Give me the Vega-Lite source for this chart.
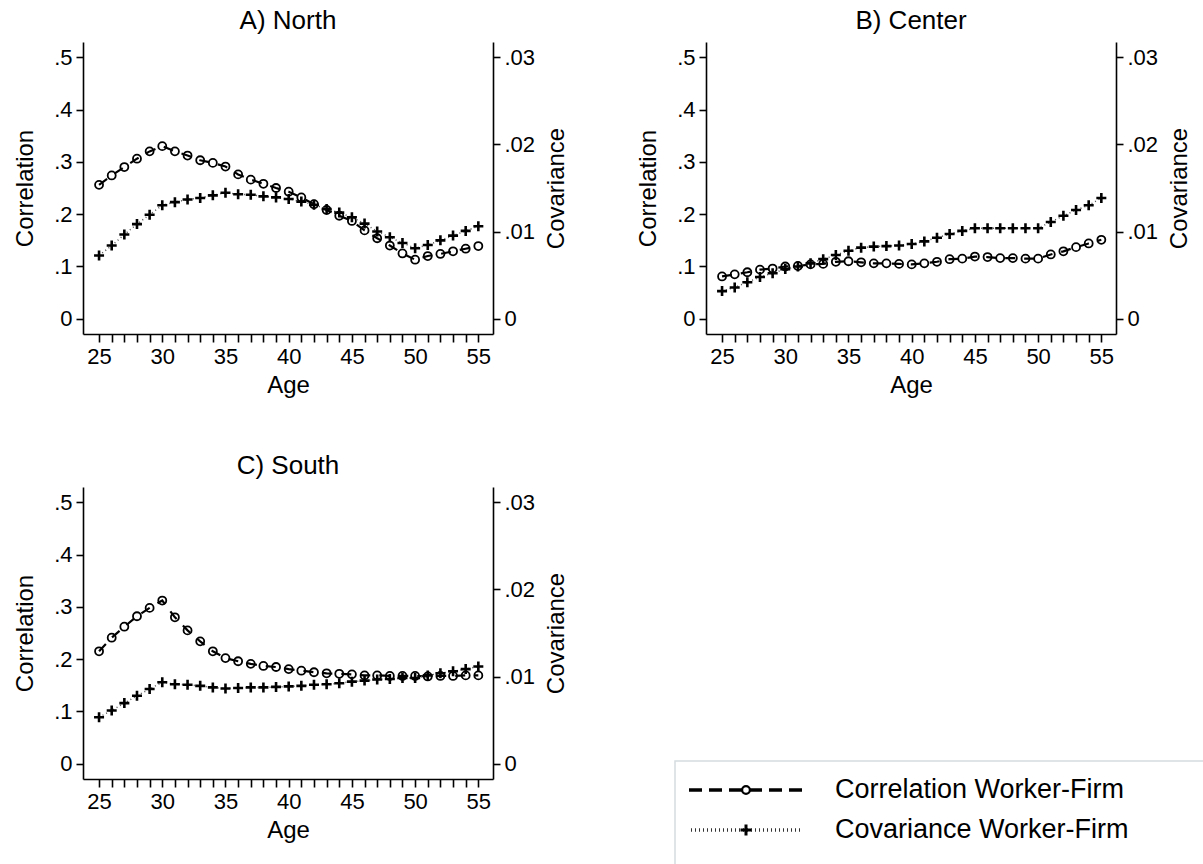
{
  "$schema": "https://vega.github.io/schema/vega-lite/v6.json",
  "padding": {"left": 13, "top": 8, "right": 0, "bottom": 0},
  "background": "white",
  "config": {
    "view": {"stroke": null},
    "font": "Liberation Sans",
    "axis": {"grid": false, "domainColor": "black", "domainWidth": 1.6, "tickColor": "black", "tickWidth": 1.6, "tickSize": 7, "labelFont": "Liberation Sans", "labelFontSize": 22, "labelColor": "black", "titleFont": "Liberation Sans", "titleFontSize": 24, "titleFontWeight": "normal", "titleColor": "black", "labelPadding": 4},
    "axisX": {"labelOverlap": false, "labelFlush": false},
    "title": {"font": "Liberation Sans", "fontSize": 26, "fontWeight": "normal", "color": "black", "offset": 8}
  },
  "datasets": {
    "main": [
      {"r":"North","age":25,"corr":0.256,"cov":0.00726},{"r":"North","age":26,"corr":0.274,"cov":0.0084},{"r":"North","age":27,"corr":0.290,"cov":0.00966},{"r":"North","age":28,"corr":0.306,"cov":0.01086},{"r":"North","age":29,"corr":0.320,"cov":0.01194},{"r":"North","age":30,"corr":0.330,"cov":0.01302},{"r":"North","age":31,"corr":0.320,"cov":0.01338},{"r":"North","age":32,"corr":0.312,"cov":0.01368},{"r":"North","age":33,"corr":0.303,"cov":0.01386},{"r":"North","age":34,"corr":0.298,"cov":0.01416},{"r":"North","age":35,"corr":0.291,"cov":0.01446},{"r":"North","age":36,"corr":0.276,"cov":0.01428},{"r":"North","age":37,"corr":0.266,"cov":0.01422},{"r":"North","age":38,"corr":0.258,"cov":0.01404},{"r":"North","age":39,"corr":0.250,"cov":0.01392},{"r":"North","age":40,"corr":0.243,"cov":0.01374},{"r":"North","age":41,"corr":0.232,"cov":0.01344},{"r":"North","age":42,"corr":0.219,"cov":0.01308},{"r":"North","age":43,"corr":0.208,"cov":0.0126},{"r":"North","age":44,"corr":0.197,"cov":0.01218},{"r":"North","age":45,"corr":0.187,"cov":0.01164},{"r":"North","age":46,"corr":0.169,"cov":0.01092},{"r":"North","age":47,"corr":0.154,"cov":0.01002},{"r":"North","age":48,"corr":0.140,"cov":0.00936},{"r":"North","age":49,"corr":0.125,"cov":0.0087},{"r":"North","age":50,"corr":0.113,"cov":0.0081},{"r":"North","age":51,"corr":0.120,"cov":0.00846},{"r":"North","age":52,"corr":0.124,"cov":0.009},{"r":"North","age":53,"corr":0.129,"cov":0.00954},{"r":"North","age":54,"corr":0.134,"cov":0.01008},{"r":"North","age":55,"corr":0.139,"cov":0.01062},
      {"r":"Center","age":25,"corr":0.081,"cov":0.00318},{"r":"Center","age":26,"corr":0.085,"cov":0.0036},{"r":"Center","age":27,"corr":0.089,"cov":0.0042},{"r":"Center","age":28,"corr":0.094,"cov":0.0048},{"r":"Center","age":29,"corr":0.096,"cov":0.00522},{"r":"Center","age":30,"corr":0.100,"cov":0.0057},{"r":"Center","age":31,"corr":0.101,"cov":0.006},{"r":"Center","age":32,"corr":0.104,"cov":0.00636},{"r":"Center","age":33,"corr":0.105,"cov":0.00684},{"r":"Center","age":34,"corr":0.109,"cov":0.00732},{"r":"Center","age":35,"corr":0.110,"cov":0.0078},{"r":"Center","age":36,"corr":0.108,"cov":0.00816},{"r":"Center","age":37,"corr":0.106,"cov":0.00828},{"r":"Center","age":38,"corr":0.106,"cov":0.00834},{"r":"Center","age":39,"corr":0.105,"cov":0.0084},{"r":"Center","age":40,"corr":0.104,"cov":0.00858},{"r":"Center","age":41,"corr":0.106,"cov":0.00888},{"r":"Center","age":42,"corr":0.109,"cov":0.0093},{"r":"Center","age":43,"corr":0.114,"cov":0.00972},{"r":"Center","age":44,"corr":0.115,"cov":0.01008},{"r":"Center","age":45,"corr":0.119,"cov":0.01038},{"r":"Center","age":46,"corr":0.118,"cov":0.01038},{"r":"Center","age":47,"corr":0.116,"cov":0.01038},{"r":"Center","age":48,"corr":0.116,"cov":0.01038},{"r":"Center","age":49,"corr":0.115,"cov":0.01038},{"r":"Center","age":50,"corr":0.115,"cov":0.01038},{"r":"Center","age":51,"corr":0.123,"cov":0.0111},{"r":"Center","age":52,"corr":0.129,"cov":0.01182},{"r":"Center","age":53,"corr":0.137,"cov":0.01248},{"r":"Center","age":54,"corr":0.144,"cov":0.01302},{"r":"Center","age":55,"corr":0.151,"cov":0.01386},
      {"r":"South","age":25,"corr":0.215,"cov":0.00534},{"r":"South","age":26,"corr":0.241,"cov":0.00612},{"r":"South","age":27,"corr":0.262,"cov":0.00696},{"r":"South","age":28,"corr":0.282,"cov":0.0078},{"r":"South","age":29,"corr":0.298,"cov":0.00858},{"r":"South","age":30,"corr":0.312,"cov":0.00936},{"r":"South","age":31,"corr":0.280,"cov":0.00912},{"r":"South","age":32,"corr":0.255,"cov":0.00906},{"r":"South","age":33,"corr":0.234,"cov":0.00894},{"r":"South","age":34,"corr":0.215,"cov":0.00876},{"r":"South","age":35,"corr":0.202,"cov":0.00864},{"r":"South","age":36,"corr":0.196,"cov":0.0087},{"r":"South","age":37,"corr":0.191,"cov":0.00876},{"r":"South","age":38,"corr":0.187,"cov":0.00876},{"r":"South","age":39,"corr":0.185,"cov":0.00882},{"r":"South","age":40,"corr":0.181,"cov":0.00888},{"r":"South","age":41,"corr":0.178,"cov":0.00894},{"r":"South","age":42,"corr":0.175,"cov":0.00906},{"r":"South","age":43,"corr":0.173,"cov":0.00912},{"r":"South","age":44,"corr":0.172,"cov":0.00924},{"r":"South","age":45,"corr":0.171,"cov":0.00942},{"r":"South","age":46,"corr":0.169,"cov":0.00954},{"r":"South","age":47,"corr":0.169,"cov":0.00966},{"r":"South","age":48,"corr":0.168,"cov":0.00972},{"r":"South","age":49,"corr":0.168,"cov":0.00984},{"r":"South","age":50,"corr":0.168,"cov":0.00984},{"r":"South","age":51,"corr":0.167,"cov":0.01014},{"r":"South","age":52,"corr":0.168,"cov":0.01038},{"r":"South","age":53,"corr":0.168,"cov":0.01062},{"r":"South","age":54,"corr":0.169,"cov":0.01086},{"r":"South","age":55,"corr":0.169,"cov":0.01116}
    ]
  },
  "bounds": "flush",
  "columns": 2,
  "spacing": {"row": 153, "column": 213},
  "concat": [
    {
      "width": 410, "height": 292,
      "title": "A) North",
      "data": {"name": "main"},
      "transform": [{"filter": "datum.r == 'North'"}],
      "layer": [
        {
          "encoding": {
            "x": {"field": "age", "type": "quantitative", "scale": {"domain": [23.73, 56.16], "nice": false, "zero": false}, "axis": {"values": [25,26,27,28,29,30,31,32,33,34,35,36,37,38,39,40,41,42,43,44,45,46,47,48,49,50,51,52,53,54,55], "labelExpr": "datum.value % 5 === 0 ? datum.label : ''", "labelOverlap": false, "labelFlush": false, "tickSize": 8, "title": "Age", "titlePadding": 6}},
            "y": {"field": "corr", "type": "quantitative", "scale": {"domain": [-0.029, 0.529], "nice": false, "zero": false}, "axis": {"orient": "left", "values": [0, 0.1, 0.2, 0.3, 0.4, 0.5], "labelExpr": "replace(format(datum.value, '.2~f'), '0.', '.')", "title": "Correlation", "titlePadding": 16}}
          },
          "layer": [
            {"mark": {"type": "line", "color": "black", "strokeWidth": 2.2, "strokeDash": [10, 9]}},
            {"mark": {"type": "point", "shape": "circle", "filled": false, "color": "black", "size": 64, "strokeWidth": 1.8, "opacity": 1}}
          ]
        },
        {
          "encoding": {
            "x": {"field": "age", "type": "quantitative", "axis": {"values": [25,26,27,28,29,30,31,32,33,34,35,36,37,38,39,40,41,42,43,44,45,46,47,48,49,50,51,52,53,54,55], "labelExpr": "datum.value % 5 === 0 ? datum.label : ''", "labelOverlap": false, "labelFlush": false, "tickSize": 8, "title": "Age", "titlePadding": 6}},
            "y": {"field": "cov", "type": "quantitative", "scale": {"domain": [-0.00174, 0.03174], "nice": false, "zero": false}, "axis": {"orient": "right", "values": [0, 0.01, 0.02, 0.03], "labelExpr": "replace(format(datum.value, '.2~f'), '0.', '.')", "title": "Covariance", "titleAngle": -90, "titleBaseline": "top", "titlePadding": 10}}
          },
          "layer": [
            {"mark": {"type": "line", "color": "#555", "strokeWidth": 1.5, "strokeDash": [1, 3]}},
            {"mark": {"type": "point", "shape": "M-1,0H1M0,-1V1", "filled": false, "color": "black", "size": 100, "strokeWidth": 2.6, "opacity": 1}}
          ]
        }
      ],
      "resolve": {"scale": {"y": "independent"}}
    },
    {
      "width": 410, "height": 292,
      "title": "B) Center",
      "data": {"name": "main"},
      "transform": [{"filter": "datum.r == 'Center'"}],
      "layer": [
        {
          "encoding": {
            "x": {"field": "age", "type": "quantitative", "scale": {"domain": [23.73, 56.16], "nice": false, "zero": false}, "axis": {"values": [25,26,27,28,29,30,31,32,33,34,35,36,37,38,39,40,41,42,43,44,45,46,47,48,49,50,51,52,53,54,55], "labelExpr": "datum.value % 5 === 0 ? datum.label : ''", "labelOverlap": false, "labelFlush": false, "tickSize": 8, "title": "Age", "titlePadding": 6}},
            "y": {"field": "corr", "type": "quantitative", "scale": {"domain": [-0.029, 0.529], "nice": false, "zero": false}, "axis": {"orient": "left", "values": [0, 0.1, 0.2, 0.3, 0.4, 0.5], "labelExpr": "replace(format(datum.value, '.2~f'), '0.', '.')", "title": "Correlation", "titlePadding": 16}}
          },
          "layer": [
            {"mark": {"type": "line", "color": "black", "strokeWidth": 2.2, "strokeDash": [10, 9]}},
            {"mark": {"type": "point", "shape": "circle", "filled": false, "color": "black", "size": 64, "strokeWidth": 1.8, "opacity": 1}}
          ]
        },
        {
          "encoding": {
            "x": {"field": "age", "type": "quantitative", "axis": {"values": [25,26,27,28,29,30,31,32,33,34,35,36,37,38,39,40,41,42,43,44,45,46,47,48,49,50,51,52,53,54,55], "labelExpr": "datum.value % 5 === 0 ? datum.label : ''", "labelOverlap": false, "labelFlush": false, "tickSize": 8, "title": "Age", "titlePadding": 6}},
            "y": {"field": "cov", "type": "quantitative", "scale": {"domain": [-0.00174, 0.03174], "nice": false, "zero": false}, "axis": {"orient": "right", "values": [0, 0.01, 0.02, 0.03], "labelExpr": "replace(format(datum.value, '.2~f'), '0.', '.')", "title": "Covariance", "titleAngle": -90, "titleBaseline": "top", "titlePadding": 10}}
          },
          "layer": [
            {"mark": {"type": "line", "color": "#555", "strokeWidth": 1.5, "strokeDash": [1, 3]}},
            {"mark": {"type": "point", "shape": "M-1,0H1M0,-1V1", "filled": false, "color": "black", "size": 100, "strokeWidth": 2.6, "opacity": 1}}
          ]
        }
      ],
      "resolve": {"scale": {"y": "independent"}}
    },
    {
      "width": 410, "height": 292,
      "title": "C) South",
      "data": {"name": "main"},
      "transform": [{"filter": "datum.r == 'South'"}],
      "layer": [
        {
          "encoding": {
            "x": {"field": "age", "type": "quantitative", "scale": {"domain": [23.73, 56.16], "nice": false, "zero": false}, "axis": {"values": [25,26,27,28,29,30,31,32,33,34,35,36,37,38,39,40,41,42,43,44,45,46,47,48,49,50,51,52,53,54,55], "labelExpr": "datum.value % 5 === 0 ? datum.label : ''", "labelOverlap": false, "labelFlush": false, "tickSize": 8, "title": "Age", "titlePadding": 6}},
            "y": {"field": "corr", "type": "quantitative", "scale": {"domain": [-0.029, 0.529], "nice": false, "zero": false}, "axis": {"orient": "left", "values": [0, 0.1, 0.2, 0.3, 0.4, 0.5], "labelExpr": "replace(format(datum.value, '.2~f'), '0.', '.')", "title": "Correlation", "titlePadding": 16}}
          },
          "layer": [
            {"mark": {"type": "line", "color": "black", "strokeWidth": 2.2, "strokeDash": [10, 9]}},
            {"mark": {"type": "point", "shape": "circle", "filled": false, "color": "black", "size": 64, "strokeWidth": 1.8, "opacity": 1}}
          ]
        },
        {
          "encoding": {
            "x": {"field": "age", "type": "quantitative", "axis": {"values": [25,26,27,28,29,30,31,32,33,34,35,36,37,38,39,40,41,42,43,44,45,46,47,48,49,50,51,52,53,54,55], "labelExpr": "datum.value % 5 === 0 ? datum.label : ''", "labelOverlap": false, "labelFlush": false, "tickSize": 8, "title": "Age", "titlePadding": 6}},
            "y": {"field": "cov", "type": "quantitative", "scale": {"domain": [-0.00174, 0.03174], "nice": false, "zero": false}, "axis": {"orient": "right", "values": [0, 0.01, 0.02, 0.03], "labelExpr": "replace(format(datum.value, '.2~f'), '0.', '.')", "title": "Covariance", "titleAngle": -90, "titleBaseline": "top", "titlePadding": 10}}
          },
          "layer": [
            {"mark": {"type": "line", "color": "#555", "strokeWidth": 1.5, "strokeDash": [1, 3]}},
            {"mark": {"type": "point", "shape": "M-1,0H1M0,-1V1", "filled": false, "color": "black", "size": 100, "strokeWidth": 2.6, "opacity": 1}}
          ]
        }
      ],
      "resolve": {"scale": {"y": "independent"}}
    },
    {
      "width": 497, "height": 376,
      "data": {"values": [{"label": "Correlation Worker-Firm", "series": "corr"}, {"label": "Covariance Worker-Firm", "series": "cov"}]},
      "layer": [
        {
          "data": {"values": [{"box": 1}]},
          "mark": {"type": "rect", "fill": "white", "stroke": "#d5dbe0", "strokeWidth": 1.5},
          "encoding": {
            "x": {"datum": 0, "type": "quantitative", "scale": {"domain": [31, 528], "nice": false, "zero": false}, "axis": null},
            "x2": {"datum": 545},
            "y": {"datum": 274, "type": "quantitative", "scale": {"domain": [0, 376], "reverse": true, "nice": false, "zero": false}, "axis": null},
            "y2": {"datum": 390}
          }
        },
        {
          "transform": [{"filter": "datum.series == 'corr'"}],
          "mark": {"type": "rule", "color": "black", "strokeWidth": 3.5, "strokeDash": [13, 7]},
          "encoding": {
            "x": {"datum": 14, "type": "quantitative"},
            "x2": {"datum": 130},
            "y": {"field": "series", "type": "nominal", "scale": {"type": "point", "domain": ["corr", "cov"], "range": [303, 343], "padding": 0}, "axis": null}
          }
        },
        {
          "transform": [{"filter": "datum.series == 'cov'"}],
          "mark": {"type": "rule", "color": "#333", "strokeWidth": 3.5, "strokeDash": [1, 3]},
          "encoding": {
            "x": {"datum": 16, "type": "quantitative"},
            "x2": {"datum": 126},
            "y": {"field": "series", "type": "nominal", "scale": {"type": "point", "domain": ["corr", "cov"], "range": [303, 343], "padding": 0}, "axis": null}
          }
        },
        {
          "transform": [{"filter": "datum.series == 'corr'"}],
          "mark": {"type": "point", "shape": "circle", "filled": true, "fill": "white", "stroke": "black", "size": 60, "strokeWidth": 2.2, "opacity": 1},
          "encoding": {
            "x": {"datum": 71, "type": "quantitative"},
            "y": {"field": "series", "type": "nominal", "scale": {"type": "point", "domain": ["corr", "cov"], "range": [303, 343], "padding": 0}, "axis": null}
          }
        },
        {
          "transform": [{"filter": "datum.series == 'cov'"}],
          "mark": {"type": "point", "shape": "M-1,0H1M0,-1V1", "filled": false, "color": "black", "size": 120, "strokeWidth": 3, "opacity": 1},
          "encoding": {
            "x": {"datum": 71, "type": "quantitative"},
            "y": {"field": "series", "type": "nominal", "scale": {"type": "point", "domain": ["corr", "cov"], "range": [303, 343], "padding": 0}, "axis": null}
          }
        },
        {
          "mark": {"type": "text", "align": "left", "baseline": "middle", "fontSize": 27, "font": "Liberation Sans", "color": "black"},
          "encoding": {
            "x": {"datum": 160, "type": "quantitative"},
            "y": {"field": "series", "type": "nominal", "scale": {"type": "point", "domain": ["corr", "cov"], "range": [303, 343], "padding": 0}, "axis": null},
            "text": {"field": "label"}
          }
        }
      ],
      "resolve": {"scale": {"y": "independent"}}
    }
  ]
}
